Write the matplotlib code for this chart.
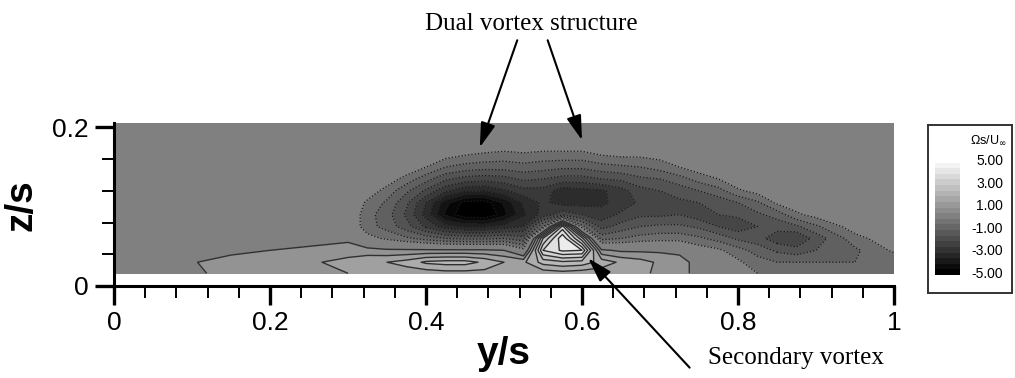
import numpy as np
import matplotlib.pyplot as plt
from matplotlib.ticker import MultipleLocator

plt.rcParams['font.family'] = ['Liberation Sans', 'DejaVu Sans']

# Spanwise stations (y/s) and wall-normal stations (z/s) of the measurement grid
y_s = [0.0, 0.1, 0.15, 0.2, 0.25, 0.3, 0.325, 0.35, 0.375, 0.4, 0.425, 0.45, 0.475,
       0.5, 0.525, 0.55, 0.575, 0.6, 0.625, 0.65, 0.675, 0.7, 0.725, 0.75, 0.775,
       0.8, 0.825, 0.85, 0.875, 0.9, 0.95, 1.0]
z_s = [0.016, 0.03, 0.045, 0.06, 0.075, 0.09, 0.105, 0.12, 0.135, 0.15, 0.165, 0.18, 0.205]

# Normalised streamwise vorticity (Omega s / U_inf), one row per z/s station
w_016 = [0, 0.2, 1.0, 0.8, 1.0, 1.0, 1.1, 1.1, 1.2, 1.2, 1.3, 1.3, 1.3, 1.2, 1.2, 1.2,
         1.3, 1.2, 1.2, 1.2, 1.1, 0.9, 0.8, 0.2, 0.0, -0.2, -0.5, -0.6, -0.7, -0.7, -0.8, -0.8]
w_030 = [0, 0.45, 0.8, 0.8, 0.9, 1.2, 1.4, 1.5, 1.7, 2.1, 2.2, 2.2, 1.9, 1.5, 1.4, 2.2,
         2.4, 2.3, 1.8, 1.4, 1.2, 0.9, 0.8, 0.2, -0.1, -0.4, -0.8, -1.0, -1.0, -1.0, -1.0, -0.9]
w_045 = [0, 0, 0.3, 0.5, 0.6, 0.7, 0.7, 0.6, 0.6, 0.6, 0.6, 0.6, 0.6, 0.5, -0.3, 3.5,
         4.1, 4.0, 0.6, 0.4, 0.4, 0.4, 0.3, -0.2, -0.4, -0.8, -1.2, -1.6, -1.8, -1.5, -1.1, -0.4]
w_060 = [0, 0, 0, 0.1, 0.3, 0.4, -0.3, -0.6, -0.9, -1.2, -1.5, -1.6, -1.6, -1.5, -1.8, 2.5,
         4.4, 2.2, -1.2, -1.0, -0.8, -0.7, -0.7, -0.9, -1.2, -1.6, -1.8, -2.3, -2.5, -1.8, -0.7, -0.1]
w_075 = [0, 0, 0, 0, 0, 0, -0.8, -1.2, -1.8, -2.6, -3.3, -3.6, -3.6, -3.3, -3.0, -1.0,
         3.2, -0.8, -2.2, -1.8, -1.5, -1.4, -1.4, -1.6, -2.0, -2.3, -2.0, -1.8, -1.6, -1.1, -0.2, 0]
w_090 = [0, 0, 0, 0, 0, 0, -0.8, -1.3, -2.1, -3.2, -4.6, -5.4, -5.5, -4.7, -3.6, -2.8,
         -2.2, -2.5, -2.8, -2.4, -2.1, -2.1, -2.0, -2.3, -2.0, -1.9, -1.6, -1.3, -0.6, -0.3, 0, 0]
w_105 = [0, 0, 0, 0, 0, 0, -0.6, -1.1, -1.9, -3.0, -4.3, -5.2, -5.3, -4.4, -3.4, -2.9,
         -3.2, -3.2, -3.1, -2.8, -2.4, -2.3, -2.1, -2.0, -1.8, -1.5, -1.1, -0.4, -0.2, 0, 0, 0]
w_120 = [0, 0, 0, 0, 0, 0, -0.2, -0.7, -1.4, -2.1, -2.9, -3.4, -3.5, -3.1, -2.7, -2.7,
         -3.3, -3.2, -3.1, -2.7, -2.2, -2.0, -1.8, -1.5, -1.2, -0.6, -0.3, 0, 0, 0, 0, 0]
w_135 = [0, 0, 0, 0, 0, 0, 0, -0.2, -0.7, -1.3, -1.9, -2.2, -2.3, -2.2, -1.9, -2.0,
         -2.2, -2.2, -2.0, -1.9, -1.6, -1.5, -1.2, -0.8, -0.5, -0.1, 0, 0, 0, 0, 0, 0]
w_150 = [0, 0, 0, 0, 0, 0, 0, 0, -0.1, -0.5, -1.0, -1.2, -1.3, -1.3, -1.2, -1.3,
         -1.4, -1.4, -1.2, -1.1, -1.0, -0.8, -0.5, -0.2, 0, 0, 0, 0, 0, 0, 0, 0]
w_165 = [0, 0, 0, 0, 0, 0, 0, 0, 0, 0, -0.3, -0.5, -0.6, -0.7, -0.6, -0.7,
         -0.7, -0.7, -0.5, -0.4, -0.4, -0.3, -0.1, 0, 0, 0, 0, 0, 0, 0, 0, 0]
w_180 = [0, 0, 0, 0, 0, 0, 0, 0, 0, 0, 0, 0, -0.1, -0.1, -0.1, -0.1,
         -0.1, -0.1, -0.1, 0, 0, 0, 0, 0, 0, 0, 0, 0, 0, 0, 0, 0]
w_205 = [0] * 32

legend_ticks = [5, 3, 1, -1, -3, -5]

omega = np.array([w_016, w_030, w_045, w_060, w_075, w_090, w_105,
                  w_120, w_135, w_150, w_165, w_180, w_205])
Y, Z = np.meshgrid(y_s, z_s)

neg_levels = np.arange(-5, -0.25, 0.5)
pos_levels = np.arange(0.5, 5.25, 0.5)
fill_levels = np.concatenate([[-6], neg_levels, pos_levels, [6]])

fig = plt.figure(figsize=(10.15, 3.78), dpi=100)
ax = fig.add_axes([0.1123, 0.2434, 0.7685, 0.4299])

ax.contourf(Y, Z, omega, levels=fill_levels, cmap='gray', vmin=-5, vmax=5)
ax.contour(Y, Z, omega, levels=neg_levels, colors='#1a1a1a',
           linewidths=0.9, linestyles='dotted')
ax.contour(Y, Z, omega, levels=pos_levels, colors='#303030',
           linewidths=1.0, linestyles='solid')

ax.set_xlim(0, 1)
ax.set_ylim(0, 0.205)

for side in ['top', 'right']:
    ax.spines[side].set_visible(False)
for side in ['left', 'bottom']:
    ax.spines[side].set_linewidth(2.2)

ax.set_xticks([0, 0.2, 0.4, 0.6, 0.8, 1.0])
ax.set_xticklabels(['0', '0.2', '0.4', '0.6', '0.8', '1'])
ax.set_yticks([0, 0.2])
ax.set_yticklabels(['0', '0.2'])
ax.xaxis.set_minor_locator(MultipleLocator(0.04))
ax.yaxis.set_minor_locator(MultipleLocator(0.04))
ax.tick_params(which='major', direction='out', length=14, width=2.4,
               labelsize=19, pad=4)
ax.tick_params(which='minor', direction='out', length=8.5, width=1.4)

ax.set_xlabel('y/s', fontsize=28, fontweight='bold', va='center')
ax.xaxis.set_label_coords(0.5, -0.418)
ax.set_ylabel('z/s', fontsize=28, fontweight='bold', va='center')
ax.yaxis.set_label_coords(-0.118, 0.5)

# Callouts
arrow_style = dict(arrowstyle='-|>,head_length=1.0,head_width=0.3',
                   color='black', lw=1.5, mutation_scale=15,
                   shrinkA=0, shrinkB=0)
ax.text(0.535, 0.331, 'Dual vortex structure', fontsize=18,
        family='Liberation Serif', ha='center', va='center')
ax.annotate('', xy=(0.469, 0.175), xytext=(0.517, 0.31),
            arrowprops=arrow_style, annotation_clip=False)
ax.annotate('', xy=(0.600, 0.184), xytext=(0.556, 0.31),
            arrowprops=arrow_style, annotation_clip=False)
ax.text(0.762, -0.091, 'Secondary vortex', fontsize=18,
        family='Liberation Serif', ha='left', va='center')
ax.annotate('', xy=(0.608, 0.035), xytext=(0.738, -0.103),
            arrowprops=arrow_style, annotation_clip=False)

# Contour legend box
lax = fig.add_axes([0.9143, 0.2249, 0.0828, 0.4444])
lax.set_xticks([])
lax.set_yticks([])
for sp in lax.spines.values():
    sp.set_linewidth(1.4)
    sp.set_color('#333333')
lax.text(0.94, 0.91, r'Ωs/U$_\infty$', fontsize=9, ha='right', va='center',
         transform=lax.transAxes)

cax = fig.add_axes([935 / 1015, (378 - 275) / 378, 25 / 1015, 118 / 378])
strip_edges = np.arange(-5.25, 5.3, 0.5)
strip_mid = (strip_edges[:-1] + strip_edges[1:]) / 2
cax.pcolormesh([0, 1], strip_edges, strip_mid[:, None], cmap='gray', vmin=-5, vmax=5)
cax.set_ylim(-5.25, 5.25)
cax.set_xticks([])
cax.yaxis.tick_right()
cax.set_yticks(legend_ticks)
cax.set_yticklabels([f'{v:.2f}' for v in legend_ticks])
cax.tick_params(length=0, labelsize=10, pad=31)
for lab in cax.get_yticklabels():
    lab.set_ha('right')
for sp in cax.spines.values():
    sp.set_visible(False)

fig.savefig('out.png', dpi=100)
